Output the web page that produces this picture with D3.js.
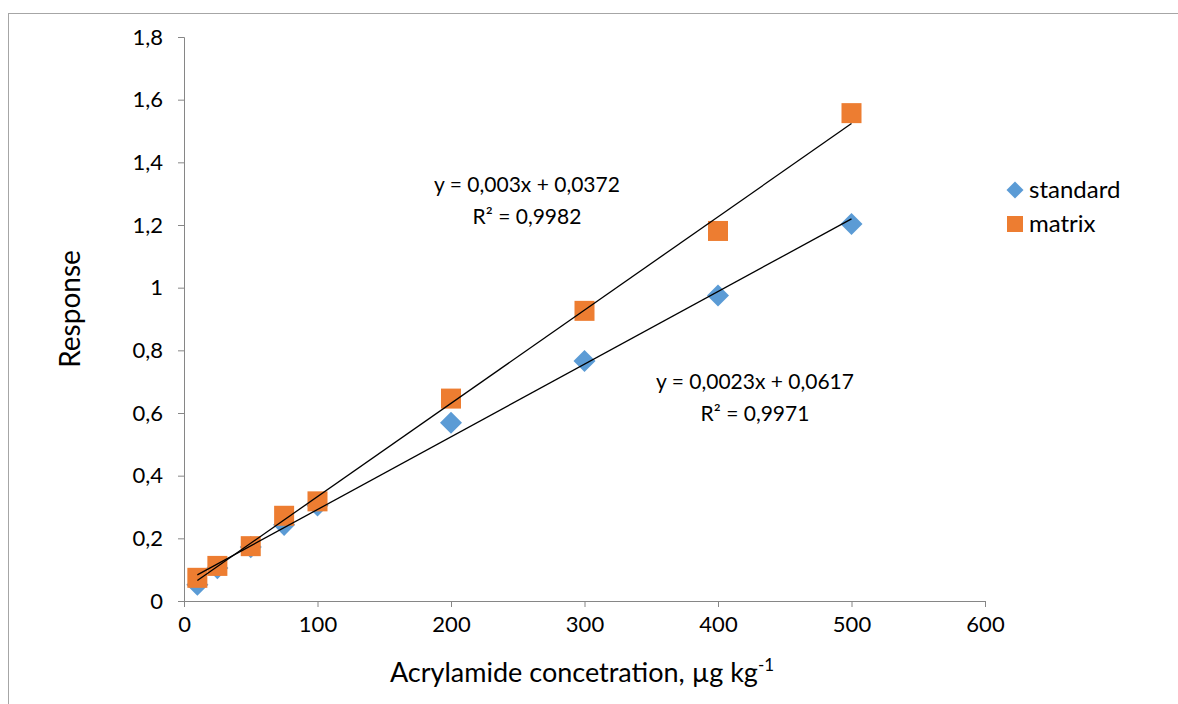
<!DOCTYPE html>
<html><head><meta charset="utf-8">
<script src="https://cdn.jsdelivr.net/npm/d3@7"></script>
<style>body{margin:0;background:#fff}svg{display:block}text{font-family:Lato,"Open Sans",sans-serif;fill:#000}</style>
</head><body><svg id="c" width="1178" height="704"></svg>
<script>
const xValues = [10, 25, 50, 75, 100, 200, 300, 400, 500];
const standardValues = [0.052, 0.105, 0.172, 0.243, 0.305, 0.569, 0.766, 0.975, 1.203];
const matrixValues = [0.074, 0.112, 0.175, 0.272, 0.318, 0.646, 0.926, 1.181, 1.557];
const xTicks = [0, 100, 200, 300, 400, 500, 600];
const yTicks = [0, 0.2, 0.4, 0.6, 0.8, 1, 1.2, 1.4, 1.6, 1.8];
const seriesNames = ["standard", "matrix"];
const seriesColors = ["#5b9bd5", "#ed7d31"];
const equations = [["y = 0,0023x + 0,0617", "R² = 0,9971"], ["y = 0,003x + 0,0372", "R² = 0,9982"]];

const svg = d3.select("#c");
svg.append("rect").attr("x", 8.5).attr("y", 13.5).attr("width", 1180).attr("height", 720)
  .attr("fill", "none").attr("stroke", "#a6a6a6").attr("stroke-width", 1);

const x = d3.scaleLinear().domain([0, 600]).range([184, 985]);
const y = d3.scaleLinear().domain([0, 1.8]).range([601, 37]);
const fmt = d => String(d).replace(".", ",");

const gx = svg.append("g").attr("transform", "translate(0,601)")
  .call(d3.axisBottom(x).tickValues(xTicks).tickSize(6).tickFormat(fmt));
const gy = svg.append("g").attr("transform", "translate(184,0)")
  .call(d3.axisLeft(y).tickValues(yTicks).tickSize(6).tickFormat(fmt));
[gx, gy].forEach(g => {
  g.select(".domain").attr("stroke", "#868686");
  g.selectAll(".tick line").attr("stroke", "#868686");
  g.selectAll("text").attr("font-size", 22).style("font-family", "Lato,'Open Sans',sans-serif").attr("fill", "#000");
});
gx.selectAll("text").attr("dy", "1.0em");
gy.selectAll("text").attr("dx", "-0.55em");

svg.append("text").attr("text-anchor", "middle").attr("font-size", 28)
  .attr("transform", "translate(80,309) rotate(-90)").text("Response");
const xt = svg.append("text").attr("x", 582).attr("y", 682).attr("text-anchor", "middle").attr("font-size", 27);
xt.append("tspan").text("Acrylamide concetration, µg kg");
xt.append("tspan").attr("font-size", 17).attr("dy", -11).text("-1");

function regress(xs, ys) {
  const mx = d3.mean(xs), my = d3.mean(ys);
  const b = d3.sum(xs, (v, i) => (v - mx) * (ys[i] - my)) / d3.sum(xs, v => (v - mx) * (v - mx));
  return [b, my - b * mx];
}
const seriesData = [standardValues, matrixValues];

// markers
seriesData.forEach((vals, si) => {
  const g = svg.append("g");
  vals.forEach((v, i) => {
    if (si === 0) {
      g.append("rect").attr("x", -7.8).attr("y", -7.8).attr("width", 15.6).attr("height", 15.6)
        .attr("fill", seriesColors[0])
        .attr("transform", `translate(${x(xValues[i])},${y(v)}) rotate(45)`);
    } else {
      g.append("rect").attr("x", x(xValues[i]) - 10).attr("y", y(v) - 10).attr("width", 20).attr("height", 20)
        .attr("fill", seriesColors[1]);
    }
  });
});

// trendlines
seriesData.forEach(vals => {
  const [b, a] = regress(xValues, vals);
  const x0 = d3.min(xValues), x1 = d3.max(xValues);
  svg.append("line").attr("x1", x(x0)).attr("y1", y(a + b * x0)).attr("x2", x(x1)).attr("y2", y(a + b * x1))
    .attr("stroke", "#000").attr("stroke-width", 1.3);
});

// equation labels
const eqPos = [[755, 389], [527, 192]];
equations.forEach((eq, i) => {
  eq.forEach((t, j) => svg.append("text").attr("x", eqPos[i][0]).attr("y", eqPos[i][1] + j * 32)
    .attr("text-anchor", "middle").attr("font-size", 21).text(t));
});

// legend
seriesNames.forEach((n, i) => {
  const cy = 190 + i * 34;
  if (i === 0) {
    svg.append("rect").attr("x", -6).attr("y", -6).attr("width", 12).attr("height", 12)
      .attr("fill", seriesColors[0]).attr("transform", `translate(1015,${cy}) rotate(45)`);
  } else {
    svg.append("rect").attr("x", 1007).attr("y", cy - 8).attr("width", 16).attr("height", 16).attr("fill", seriesColors[1]);
  }
  svg.append("text").attr("x", 1029).attr("y", cy + 8).attr("font-size", 24).text(n);
});
</script></body></html>
